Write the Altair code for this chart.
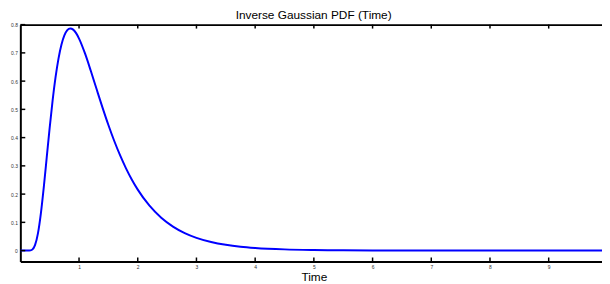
import altair as alt
import pandas as pd

time = [0, 0.05, 0.1, 0.15, 0.2, 0.25, 0.3, 0.35, 0.4, 0.45, 0.5, 0.55, 0.6, 0.65,
        0.7, 0.75, 0.8, 0.85, 0.9, 0.95, 1.0, 1.1, 1.2, 1.3, 1.4, 1.5, 1.6, 1.7,
        1.8, 1.9, 2.0, 2.2, 2.4, 2.6, 2.8, 3.0, 3.25, 3.5, 3.75, 4.0, 4.5, 5.0,
        5.5, 6.0, 7.0, 8.0, 9.0, 10.0]
density = [0, 0, 0, 0.0001, 0.0030, 0.0191, 0.0609, 0.1320, 0.2258, 0.3306,
           0.4355, 0.5316, 0.6139, 0.6797, 0.7287, 0.7616, 0.7802, 0.7864,
           0.7823, 0.7698, 0.7507, 0.6989, 0.6367, 0.5710, 0.5061, 0.4446,
           0.3880, 0.3368, 0.2913, 0.2511, 0.2159, 0.1589, 0.1163, 0.0850,
           0.0620, 0.0452, 0.0304, 0.0205, 0.0138, 0.0094, 0.0043, 0.0020,
           0.0009, 0.0004, 0.0001, 0.0, 0.0, 0.0]
x_ticks = [1, 2, 3, 4, 5, 6, 7, 8, 9]
y_ticks = [0, 0.1, 0.2, 0.3, 0.4, 0.5, 0.6, 0.7, 0.8]

W = 589.5
H = 240
FONT = "Liberation Sans"

df = pd.DataFrame({"t": time, "d": density})
xt = pd.DataFrame({"t": x_ticks})
yt = pd.DataFrame({"d": y_ticks})

xscale = alt.Scale(domain=[0, 9.908], nice=False, zero=False)
yscale = alt.Scale(domain=[-0.0384, 0.8], nice=False, zero=False)

yaxis = alt.Axis(
    values=y_ticks, format="~g", ticks=False, grid=False,
    labelFontSize=5, labelPadding=3, labelColor="#333333", labelFont=FONT,
    domainColor="black", domainWidth=2, title=None)

line = alt.Chart(df).mark_line(
    color="#0000ff", strokeWidth=2, clip=True, interpolate="monotone"
).encode(
    x=alt.X("t:Q", scale=xscale, axis=alt.Axis(
        orient="bottom", values=x_ticks, format="~g", ticks=False, grid=False,
        labelFontSize=5, labelPadding=3, labelColor="#333333", labelFont=FONT,
        domainColor="black", domainWidth=2,
        title="Time", titleFontSize=12, titleFontWeight="normal", titleFont=FONT,
        titleColor="black", titlePadding=2, titleX=297.5)),
    y=alt.Y("d:Q", scale=yscale, axis=yaxis),
)

top_ticks = alt.Chart(xt).mark_rule(color="black", strokeWidth=1.5).encode(
    x=alt.X("t:Q", scale=xscale, axis=alt.Axis(
        orient="top", labels=False, ticks=False, grid=False, title=None,
        domainColor="black", domainWidth=2)),
    y=alt.value(0), y2=alt.value(4),
)

bottom_ticks = alt.Chart(xt).mark_rule(color="black", strokeWidth=1.5).encode(
    x=alt.X("t:Q", scale=xscale, axis=None),
    y=alt.value(H), y2=alt.value(H - 4),
)

left_ticks = alt.Chart(yt).mark_rule(color="black", strokeWidth=1.5).encode(
    y=alt.Y("d:Q", scale=yscale, axis=yaxis),
    x=alt.value(0), x2=alt.value(5),
)

chart = alt.layer(line, top_ticks, bottom_ticks, left_ticks).resolve_axis(
    x="independent"
).properties(
    width=W, height=H,
    title=alt.TitleParams("Inverse Gaussian PDF (Time)", fontSize=12,
                          fontWeight="normal", font=FONT, color="black",
                          anchor="middle", dx=2.5, offset=1),
    autosize=alt.AutoSizeParams(type="none"),
    padding={"left": 12.5, "top": 15, "right": 0, "bottom": 21},
).configure_view(stroke=None).configure(background="white")

chart.save("out.html", embed_options={"renderer": "svg", "actions": False})
